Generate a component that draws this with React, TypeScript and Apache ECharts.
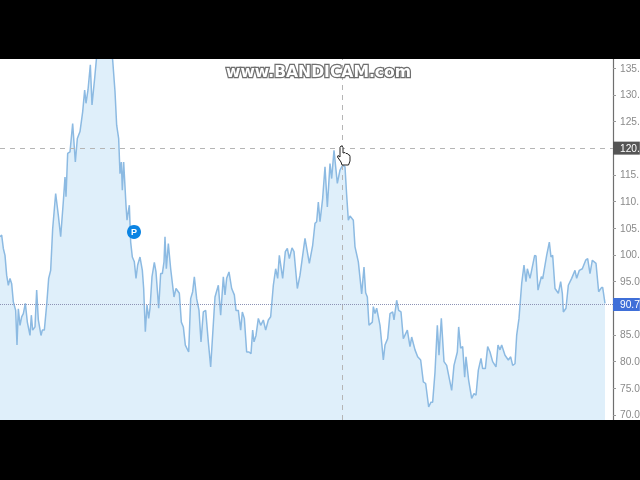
import React, { useEffect, useRef } from "react";
import * as echarts from "echarts";

const sessions = [
  0, 5, 10, 15, 20, 25, 30, 35, 40, 47, 51, 55, 60, 65, 70, 76, 82, 90, 94, 98, 105, 110, 115, 123, 127, 133, 140, 146, 152, 158, 167, 175, 182, 190, 195, 198, 203, 210, 218, 226, 232, 240, 248, 254, 258, 264, 271, 276, 284, 290, 296, 302, 310, 320, 330, 335, 338, 345, 350, 356, 360, 364, 367, 371, 378, 381, 388, 392, 397, 403, 408, 413, 420, 427, 431, 436, 441, 446, 450, 456, 463, 468, 476, 482, 487, 492, 495, 499, 505, 512, 522, 528, 538, 544, 550, 556, 566, 572, 578, 583, 590, 597, 603, 610, 617, 625, 632, 645, 655, 662, 670, 675, 680, 687, 695, 703, 708, 715, 722, 727, 733, 740, 747, 753, 758, 762, 768, 775, 782, 790, 797, 805, 812, 820, 827, 833, 838, 848, 856, 862, 868, 876, 882, 892, 900, 915, 928, 938, 945, 950, 955,
  960, 968, 975, 982, 990, 995, 1002, 1012, 1020, 1028, 1035, 1040, 1045, 1050, 1060, 1065, 1075, 1085, 1092, 1097, 1102, 1107, 1117, 1120, 1125, 1130, 1140, 1150, 1155, 1163, 1170, 1178, 1182, 1190, 1196, 1203, 1210, 1222, 1230, 1235, 1245, 1253, 1262, 1270, 1277, 1286, 1293, 1298, 1305, 1312, 1317, 1324, 1332, 1340, 1355, 1362, 1372, 1376, 1382, 1388, 1394, 1398, 1406, 1415, 1422, 1428, 1435, 1443, 1448, 1456, 1463, 1470, 1478, 1488, 1494, 1500, 1505, 1515, 1525, 1532, 1538, 1545, 1550, 1557, 1565, 1572, 1578, 1582, 1590, 1594, 1604, 1608, 1614, 1624, 1628, 1640, 1648, 1653, 1658, 1665, 1675, 1682, 1687, 1690, 1698, 1705, 1715, 1725, 1730, 1738, 1747, 1757, 1763, 1770, 1777, 1788, 1796, 1805, 1808, 1815, 1820,
];

const prices = [
  103.4, 103.7, 101.2, 99.9, 96.2, 94.3, 95.6, 94.6, 91.2, 89.6, 83.1, 89.9, 86.8, 88.4, 89.0, 90.9, 87.4, 84.9, 88.7, 85.9, 86.5, 93.4, 87.8, 84.9, 85.9, 85.9, 90.6, 95.6, 97.1, 104.9, 111.5, 107.4, 103.4, 110.0, 114.6, 110.9, 119.0, 119.3, 124.6, 117.4, 121.8, 123.1, 126.8, 130.9, 128.4, 130.9, 135.6, 128.1, 133.1, 137.2, 139.0, 138.0, 139.5, 138.5, 139.0, 137.6, 136.5, 130.6, 124.3, 121.8, 115.2, 117.4, 112.1, 117.4, 109.3, 106.5, 109.3, 102.4, 99.6, 98.7, 95.6, 98.1, 99.6, 97.1, 93.7, 85.6, 90.6, 88.1, 90.0, 95.9, 98.6, 96.8, 90.0, 96.5, 96.5, 98.7, 103.4, 97.4, 102.1, 97.4, 92.1, 93.7, 92.8, 87.4, 86.5, 83.1, 81.8, 91.8, 93.1, 95.9, 91.8, 89.6, 83.7, 89.3, 89.6, 83.7, 79.0, 92.1, 94.3, 88.7, 95.9, 92.5, 95.6, 96.8, 93.7, 92.5, 89.6, 89.6, 85.9, 89.3, 88.1, 81.8, 81.8, 81.5, 85.9, 83.7, 84.9, 88.1, 86.8, 87.8, 85.9, 87.8, 88.4, 94.3, 97.4, 95.6, 99.9, 95.6, 100.6, 101.2, 99.3, 101.3, 100.6, 93.7, 96.2, 103.1, 98.4, 101.8, 105.9, 106.2, 109.9,
  106.2, 110.6, 116.5, 109.0, 117.1, 114.3, 119.6, 113.4, 115.9, 116.8, 116.5, 111.2, 106.5, 107.3, 106.5, 101.5, 98.7, 92.7, 97.7, 92.9, 92.1, 86.8, 87.4, 90.3, 89.0, 90.0, 86.8, 80.3, 83.1, 84.3, 89.0, 89.3, 87.8, 91.5, 89.6, 89.3, 84.3, 85.9, 82.8, 84.6, 82.2, 80.9, 80.3, 76.2, 75.9, 71.5, 72.4, 72.4, 78.0, 86.8, 81.2, 88.1, 80.0, 79.3, 74.6, 79.3, 81.8, 86.5, 82.5, 82.8, 77.1, 80.9, 76.5, 73.1, 74.0, 73.7, 78.4, 80.6, 78.7, 78.7, 82.8, 81.8, 80.0, 79.0, 83.1, 82.2, 83.1, 81.2, 80.3, 80.9, 79.3, 79.6, 84.9, 88.1, 94.6, 98.1, 95.0, 97.4, 95.6, 96.8, 99.9, 99.8, 93.4, 95.9, 95.5, 99.9, 102.4, 99.6, 99.9, 93.7, 92.8, 95.0, 92.8, 89.3, 90.0, 94.3, 95.6, 97.1, 95.6, 97.1, 97.4, 99.0, 99.3, 96.5, 99.0, 98.4, 93.1, 93.9, 93.9, 90.9,
];

const tickValues = [70, 75, 80, 85, 90, 95, 100, 105, 110, 115, 120, 125, 130, 135];
const labelValues = [70, 75, 80, 85, 95, 100, 105, 110, 115, 125, 130, 135];
const crosshairPrice = 120;
const crosshairSession = 1027;
const lastPrice = 90.7;
const markerSession = 402;
const markerPrice = 104.3;

// The reference's right edge cuts three-digit labels after the point.
const visibleLabel = (v: number) => (v >= 100 ? `${v}.` : v.toFixed(1));

echarts.graphic.registerShape(
  "hand",
  echarts.graphic.extendPath(
    "M3 1.5 L4 0 L5 0 L6 1.5 L6 7 L8 6.5 L9 7.5 L10.5 7.5 L11 8.5 L12.5 9 L13 10.5 L13 15 L11.5 19 L5 19 L4 16 L0.5 11 L1 9.5 L3 11 Z",
    {}
  ) as any
);

export default function App() {
  const ref = useRef<HTMLDivElement>(null);

  useEffect(() => {
    document.body.style.margin = "0";
    document.body.style.background = "#000";
    const chart = echarts.init(ref.current!, undefined, { renderer: "svg" });
    chart.setOption({
      animation: false,
      backgroundColor: "#ffffff",
      textStyle: { fontFamily: "Liberation Sans" },
      grid: { left: 0, top: 0, width: 613, height: 361, containLabel: false, outerBoundsMode: "none" },
      xAxis: { type: "value", min: 0, max: 1839, show: false },
      yAxis: {
        type: "value",
        position: "right",
        min: 69.06,
        max: 136.7,
        axisLine: { show: true, onZero: false, lineStyle: { color: "#6f6f6f", width: 1.2 } },
        axisTick: { show: true, length: 3, lineStyle: { color: "#999999" }, customValues: tickValues },
        axisLabel: {
          color: "#8a8a8a",
          fontSize: 10.2,
          margin: 7,
          hideOverlap: false,
          customValues: labelValues,
          formatter: visibleLabel,
        },
        splitLine: { show: false },
      },
      series: [
        {
          type: "line",
          data: sessions.map((s, i) => [s, prices[i]]),
          showSymbol: false,
          symbol: "none",
          smooth: false,
          clip: true,
          lineStyle: { color: "#8cbae2", width: 1.5 },
          areaStyle: { color: "#dfeffa", opacity: 1, origin: "start" },
          markLine: {
            silent: true,
            symbol: "none",
            animation: false,
            data: [
              {
                yAxis: crosshairPrice,
                lineStyle: { color: "#b5b5b5", type: [5, 5], width: 1 },
                label: {
                  show: true,
                  position: "end",
                  distance: 0,
                  formatter: visibleLabel(crosshairPrice),
                  color: "#ffffff",
                  backgroundColor: "#555555",
                  fontSize: 10.2,
                  padding: [2, 0, 1, 7],
                },
              },
              {
                xAxis: crosshairSession,
                lineStyle: { color: "#b5b5b5", type: [5, 5], width: 1 },
                label: { show: false },
              },
              {
                yAxis: lastPrice,
                lineStyle: { color: "#8d93b5", type: [1, 1], width: 1 },
                label: {
                  show: true,
                  position: "end",
                  distance: 0,
                  formatter: lastPrice.toFixed(1),
                  color: "#ffffff",
                  backgroundColor: "#3f6fd8",
                  fontSize: 10.2,
                  padding: [2, 0, 1, 7],
                },
              },
            ],
          },
          markPoint: {
            silent: true,
            symbol: "circle",
            symbolSize: 14,
            itemStyle: { color: "#0b84e3" },
            label: { show: true, formatter: "P", color: "#ffffff", fontSize: 9, fontWeight: "bold" },
            data: [{ coord: [markerSession, markerPrice] }],
          },
        },
      ],
      graphic: [
        {
          type: "text",
          z: 100,
          x: 226,
          y: 5,
          style: {
            text: "www.BANDICAM.com",
            font: "bold 15.6px 'DejaVu Sans'",
            fill: "#ffffff",
            stroke: "#6f6f6f",
            lineWidth: 2.5,
          },
        },
        {
          type: "hand",
          z: 101,
          x: 337,
          y: 87,
          style: { fill: "#ffffff", stroke: "#222222", lineWidth: 1 },
        },
      ],
    });
    return () => chart.dispose();
  }, []);

  return (
    <div style={{ position: "fixed", left: 0, top: 0, width: 640, height: 480, background: "#000", overflow: "hidden" }}>
      <div ref={ref} style={{ position: "absolute", left: 0, top: 59, width: 640, height: 361, filter: "blur(0.35px)" }} />
    </div>
  );
}
